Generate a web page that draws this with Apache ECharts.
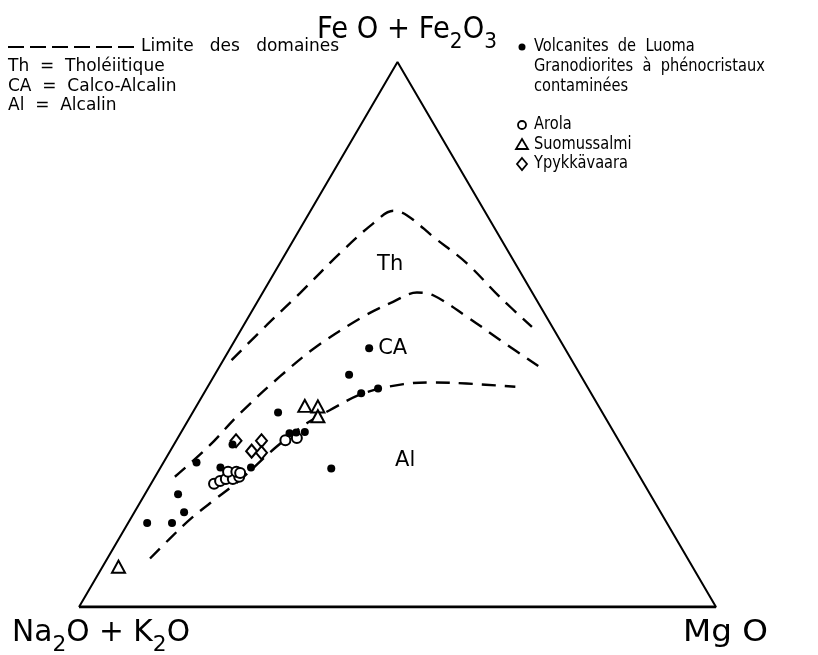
<!DOCTYPE html>
<html>
<head>
<meta charset="utf-8">
<script src="https://cdn.jsdelivr.net/npm/echarts@6/dist/echarts.min.js"></script>
<style>
html,body{margin:0;padding:0;background:#fff;}
#chart{width:818px;height:655px;}
</style>
</head>
<body>
<div id="chart"></div>
<script>
// Ternary compositions, in % : [Na2O+K2O, FeO+Fe2O3, MgO]
const triangleVertices = [[100,0,0],[0,100,0],[0,0,100],[100,0,0]];
const baseEdge = [[100,0,0],[0,0,100]];

const luoma = [
  [30.7,47.5,21.8],[36.3,42.6,21.1],[36.1,39.2,24.7],[32.9,40.1,26.9],
  [50.9,35.7,13.4],[51.1,31.9,17.1],[49.9,32.0,18.1],[48.5,32.1,19.4],
  [47.8,25.4,26.9],[61.0,29.8,9.2],[60.3,25.6,14.2],[68.3,26.5,5.2],
  [65.1,25.6,9.4],[74.2,20.7,5.2],[74.8,17.4,7.8],[81.6,15.4,3.0],[77.8,15.4,6.9]
];
const arola = [
  [52.2,30.6,17.1],[50.4,31.0,18.7],[67.5,22.6,9.9],[66.3,23.1,10.6],
  [65.2,23.5,11.3],[64.1,23.5,12.4],[63.0,23.9,13.2],[64.2,24.8,11.0],
  [63.0,24.8,12.3],[62.4,24.6,13.0]
];
const suomussalmi = [[46.1,36.9,17.0],[44.2,36.8,19.1],[45.0,35.0,20.0],[90.1,7.4,2.5]];
const ypykkavaara = [[60.1,30.5,9.4],[56.1,30.5,13.4],[58.6,28.6,12.8],[57.1,28.3,14.5]];

// Domain limits
const limitTop = [
  [53.4,45.3,1.3],[44.7,51.7,3.6],[36.5,57.6,5.9],[26.6,64.9,8.5],[18.6,70.4,11.0],
  [14.3,72.7,13.0],[12.6,71.9,15.5],[10.4,67.9,21.7],[7.6,63.1,29.3],[5.4,56.9,37.6],[3.2,51.4,45.4]
];
const limitMiddle = [
  [73.0,23.9,3.1],[65.0,29.4,5.6],[57.0,35.5,7.5],[47.3,42.3,10.4],[38.8,47.8,13.4],
  [28.7,53.3,18.0],[22.7,56.0,21.3],[18.2,57.7,24.2],[15.8,57.2,27.0],[12.5,53.3,34.2],
  [9.4,49.0,41.6],[5.8,44.2,50.0]
];
const limitBottom = [
  [84.4,8.9,6.7],[79.4,12.6,8.0],[74.2,16.3,9.5],[68.8,19.8,11.5],[63.1,23.3,13.6],
  [54.3,29.4,16.3],[47.4,33.7,18.9],[42.5,36.1,21.3],[35.8,39.2,25.0],[28.6,40.9,30.5],
  [23.8,41.2,35.0],[18.6,41.0,40.3],[11.4,40.4,48.3]
];

const fieldLabelTexts = ['Th','CA','Al'];
const fieldLabelPositions = [[19.7,62.9,17.4],[27.0,47.5,25.5],[35.4,26.8,37.8]];

const titleTop = [['Fe O + Fe',0],['2',1],['O',0],['3',1]];
const titleLeft = [['Na',0],['2',1],['O + K',0],['2',1],['O',0]];
const titleRight = [['Mg O',0]];

const legendLeft = ['Limite   des   domaines','Th  =  Tholéiitique','CA  =  Calco-Alcalin','Al  =  Alcalin'];
const legendRight = ['Volcanites  de  Luoma','Granodiorites  à  phénocristaux','contaminées'];
const legendSeries = ['Arola','Suomussalmi','Ypykkävaara'];

const FONT = '"DejaVu Sans", sans-serif';
function toXY(p){ return [p[2] + p[1]/2, p[1]]; }

const measureCtx = document.createElement('canvas').getContext('2d');
function formula(parts, x, yMid, align, targetWidth){
  const mainSize = 30, subSize = 22;
  const items = parts.map(([t, sub]) => {
    const size = sub ? subSize : mainSize;
    measureCtx.font = size + 'px ' + FONT;
    return {t, sub, size, w: measureCtx.measureText(t).width};
  });
  const natural = items.reduce((s, i) => s + i.w, 0);
  const sx = targetWidth ? targetWidth / natural : 1;
  let cx = align === 'center' ? x - natural * sx / 2 : x;
  return items.map(i => {
    const el = {type:'text', x:cx, y:yMid + (i.sub ? 12 : 0), scaleX:sx,
      style:{text:i.t, font:i.size + 'px ' + FONT, fill:'#000', textVerticalAlign:'middle', verticalAlign:'middle'}};
    cx += i.w * sx;
    return el;
  });
}
function legendText(t, x, y, sx){
  return {type:'text', x:x, y:y, scaleX:sx || 1,
    style:{text:t, font:'17px ' + FONT, fill:'#000', textVerticalAlign:'middle', verticalAlign:'middle'}};
}

const chart = echarts.init(document.getElementById('chart'), null, {renderer:'canvas'});

const hollow = {color:'#fff', borderColor:'#000', borderWidth:2, opacity:1};
const dashed = {color:'#000', width:2.4, type:[14,9]};

const option = {
  backgroundColor:'#fff',
  animation:false,
  grid:{left:79, right:102, top:62, bottom:48},
  xAxis:{type:'value', min:0, max:100, show:false},
  yAxis:{type:'value', min:0, max:100, show:false},
  series:[
    {type:'line', data:triangleVertices.map(toXY), showSymbol:false, lineStyle:{color:'#000', width:2}, z:1},
    {type:'line', data:baseEdge.map(toXY), showSymbol:false, lineStyle:{color:'#000', width:3}, z:1},
    {type:'line', data:limitTop.map(toXY), smooth:0.35, showSymbol:false, lineStyle:dashed, z:1},
    {type:'line', data:limitMiddle.map(toXY), smooth:0.35, showSymbol:false, lineStyle:dashed, z:1},
    {type:'line', data:limitBottom.map(toXY), smooth:0.35, showSymbol:false, lineStyle:dashed, z:1},
    {type:'scatter', name:'Arola', data:arola.map(toXY), symbol:'circle', symbolSize:10, itemStyle:hollow, z:3},
    {type:'scatter', name:'Ypykkävaara', data:ypykkavaara.map(toXY), symbol:'diamond', symbolSize:[11,13], itemStyle:hollow, z:3},
    {type:'scatter', name:'Suomussalmi', data:suomussalmi.map(toXY), symbol:'triangle', symbolSize:[13,12], itemStyle:hollow, z:3},
    {type:'scatter', name:'Volcanites de Luoma', data:luoma.map(toXY), symbol:'circle', symbolSize:8, itemStyle:{color:'#000', opacity:1}, z:4},
    {type:'scatter', data:fieldLabelPositions.map(toXY), symbolSize:1, silent:true,
      itemStyle:{color:'rgba(0,0,0,0)', opacity:1},
      label:{show:true, position:'inside', color:'#000', opacity:1, fontFamily:FONT, fontSize:21,
        formatter:(p) => fieldLabelTexts[p.dataIndex]}, z:5}
  ],
  graphic:[].concat(
    formula(titleTop, 407, 30, 'center', 180),
    formula(titleLeft, 12, 633, 'left', 178),
    formula(titleRight, 683, 633, 'left', 85),
    [
      {type:'line', shape:{x1:8, y1:47, x2:138, y2:47}, style:{stroke:'#000', lineWidth:2, lineDash:[16,6]}},
      legendText(legendLeft[0], 141, 47),
      legendText(legendLeft[1], 8, 67),
      legendText(legendLeft[2], 8, 87),
      legendText(legendLeft[3], 8, 106),

      {type:'circle', shape:{cx:522, cy:47, r:3.5}, style:{fill:'#000'}},
      legendText(legendRight[0], 534, 47, 0.86),
      legendText(legendRight[1], 534, 67, 0.86),
      legendText(legendRight[2], 534, 87, 0.86),

      {type:'circle', shape:{cx:522, cy:125, r:4}, style:{fill:'#fff', stroke:'#000', lineWidth:1.8}},
      legendText(legendSeries[0], 534, 125, 0.86),
      {type:'polygon', shape:{points:[[522,139],[528,149],[516,149]]}, style:{fill:'#fff', stroke:'#000', lineWidth:1.8}},
      legendText(legendSeries[1], 534, 145, 0.86),
      {type:'polygon', shape:{points:[[522,158],[527,164],[522,170],[517,164]]}, style:{fill:'#fff', stroke:'#000', lineWidth:1.8}},
      legendText(legendSeries[2], 534, 164, 0.86)
    ]
  )
};
chart.setOption(option);
</script>
</body>
</html>
